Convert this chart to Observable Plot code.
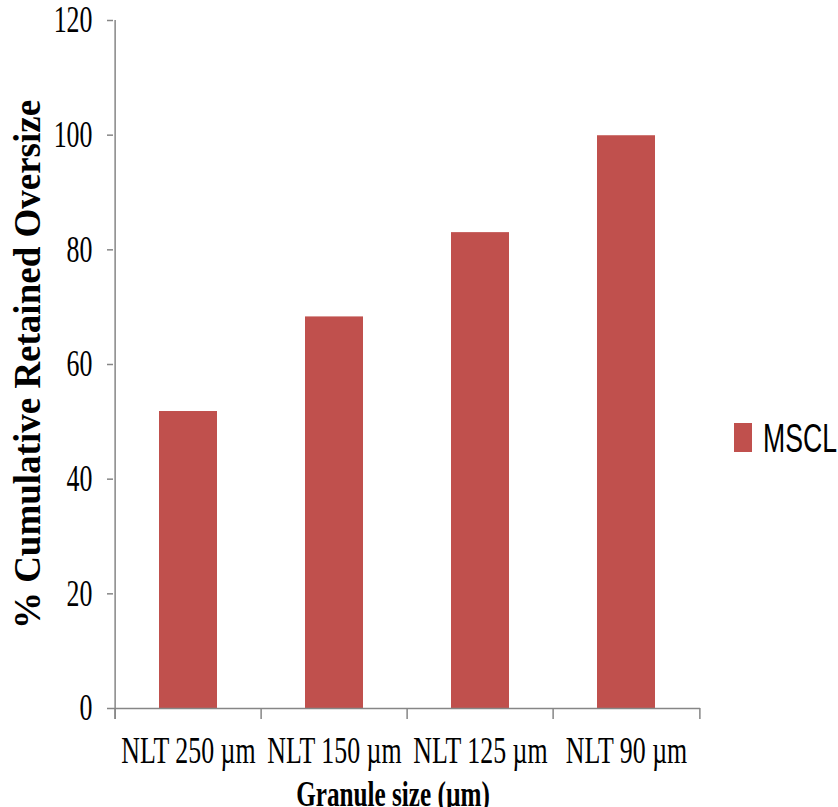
<!DOCTYPE html>
<html><head><meta charset="utf-8">
<script src="https://cdn.jsdelivr.net/npm/d3@7"></script>
<script src="https://cdn.jsdelivr.net/npm/@observablehq/plot@0.6"></script>
<style>
html,body{margin:0;padding:0;background:#fff;}
#wrap{position:relative;width:838px;height:807px;overflow:hidden;background:#fff;}
#legend{position:absolute;left:734px;top:416px;}
</style></head><body><div id="wrap"></div>
<script>
const categories = ["NLT 250 µm", "NLT 150 µm", "NLT 125 µm", "NLT 90 µm"];
const values = [51.8, 68.3, 83.0, 99.9];
const yTicks = [0, 20, 40, 60, 80, 100, 120];
const seriesName = "MSCL";
const xTitle = "Granule size (µm)";
const yTitle = "% Cumulative Retained Oversize";

const barColor = "#C0504D";
const axisGrey = "#868686";
const W = 838, H = 807;
const mL = 113, mR = 138, mT = 20, mB = 99;
const step = (W - mL - mR) / categories.length;
const plotH = H - mT - mB;

const data = categories.map((c, i) => ({cat: c, value: values[i]}));

const chart = Plot.plot({
  width: W, height: H,
  marginLeft: mL, marginRight: mR, marginTop: mT, marginBottom: mB,
  style: {fontFamily: "'Liberation Serif', 'Times New Roman', serif", fontSize: "37px", color: "#000", background: "#fff"},
  x: {domain: categories, paddingInner: 0.605, paddingOuter: 0.3025, label: null, axis: null},
  y: {domain: [0, 120], label: null, axis: null},
  marks: [
    Plot.barY(data, {x: "cat", y: "value", fill: barColor}),
    Plot.ruleY([0], {stroke: axisGrey, strokeWidth: 1.5}),
    Plot.ruleX([categories[0]], {dx: -step / 2, insetBottom: -11, stroke: axisGrey, strokeWidth: 1.5}),
    Plot.ruleX(categories, {dx: -step / 2, insetTop: plotH, insetBottom: -11, stroke: axisGrey, strokeWidth: 1.5}),
    Plot.ruleX([categories[categories.length - 1]], {dx: step / 2, insetTop: plotH, insetBottom: -11, stroke: axisGrey, strokeWidth: 1.5}),
    Plot.axisY({ticks: yTicks, tickSize: 6, tickPadding: 15, stroke: axisGrey, strokeWidth: 1.5, label: null}),
    Plot.axisX({tickSize: 0, tickPadding: 28, label: null}),
    Plot.text([xTitle], {frameAnchor: "bottom", text: d => d, dx: -14, dy: 97, fontWeight: "bold", fontSize: 36, fill: "#000"}),
    Plot.text([yTitle], {frameAnchor: "left", text: d => d, dx: -85, rotate: -90, textAnchor: "middle", fontWeight: "bold", fontSize: 37, fill: "#000"})
  ]
});

// condense horizontal texts (the original uses narrow rendering)
chart.querySelectorAll("text").forEach(t => {
  if (t.textContent === yTitle) return;
  t.setAttribute("fill", "#000");
  t.setAttribute("stroke", "none");
  const tr = t.getAttribute("transform");
  if (tr) {
    t.setAttribute("transform", tr + " scale(0.7,1)");
  } else {
    const x = +t.getAttribute("x") || 0;
    t.setAttribute("transform", `translate(${x},0) scale(0.7,1) translate(${-x},0)`);
  }
});

const wrap = document.getElementById("wrap");
wrap.appendChild(chart);

// legend
const ns = "http://www.w3.org/2000/svg";
const leg = document.createElementNS(ns, "svg");
leg.setAttribute("id", "legend");
leg.setAttribute("width", 104);
leg.setAttribute("height", 44);
const r = document.createElementNS(ns, "rect");
r.setAttribute("x", 0); r.setAttribute("y", 7); r.setAttribute("width", 18); r.setAttribute("height", 29);
r.setAttribute("fill", barColor);
leg.appendChild(r);
const lt = document.createElementNS(ns, "text");
lt.setAttribute("transform", "translate(29,36) scale(0.65,1)");
lt.setAttribute("font-family", "'Liberation Sans', Arial, sans-serif");
lt.setAttribute("font-size", 41);
lt.setAttribute("fill", "#000");
lt.textContent = seriesName;
leg.appendChild(lt);
wrap.appendChild(leg);
</script>
</body></html>
